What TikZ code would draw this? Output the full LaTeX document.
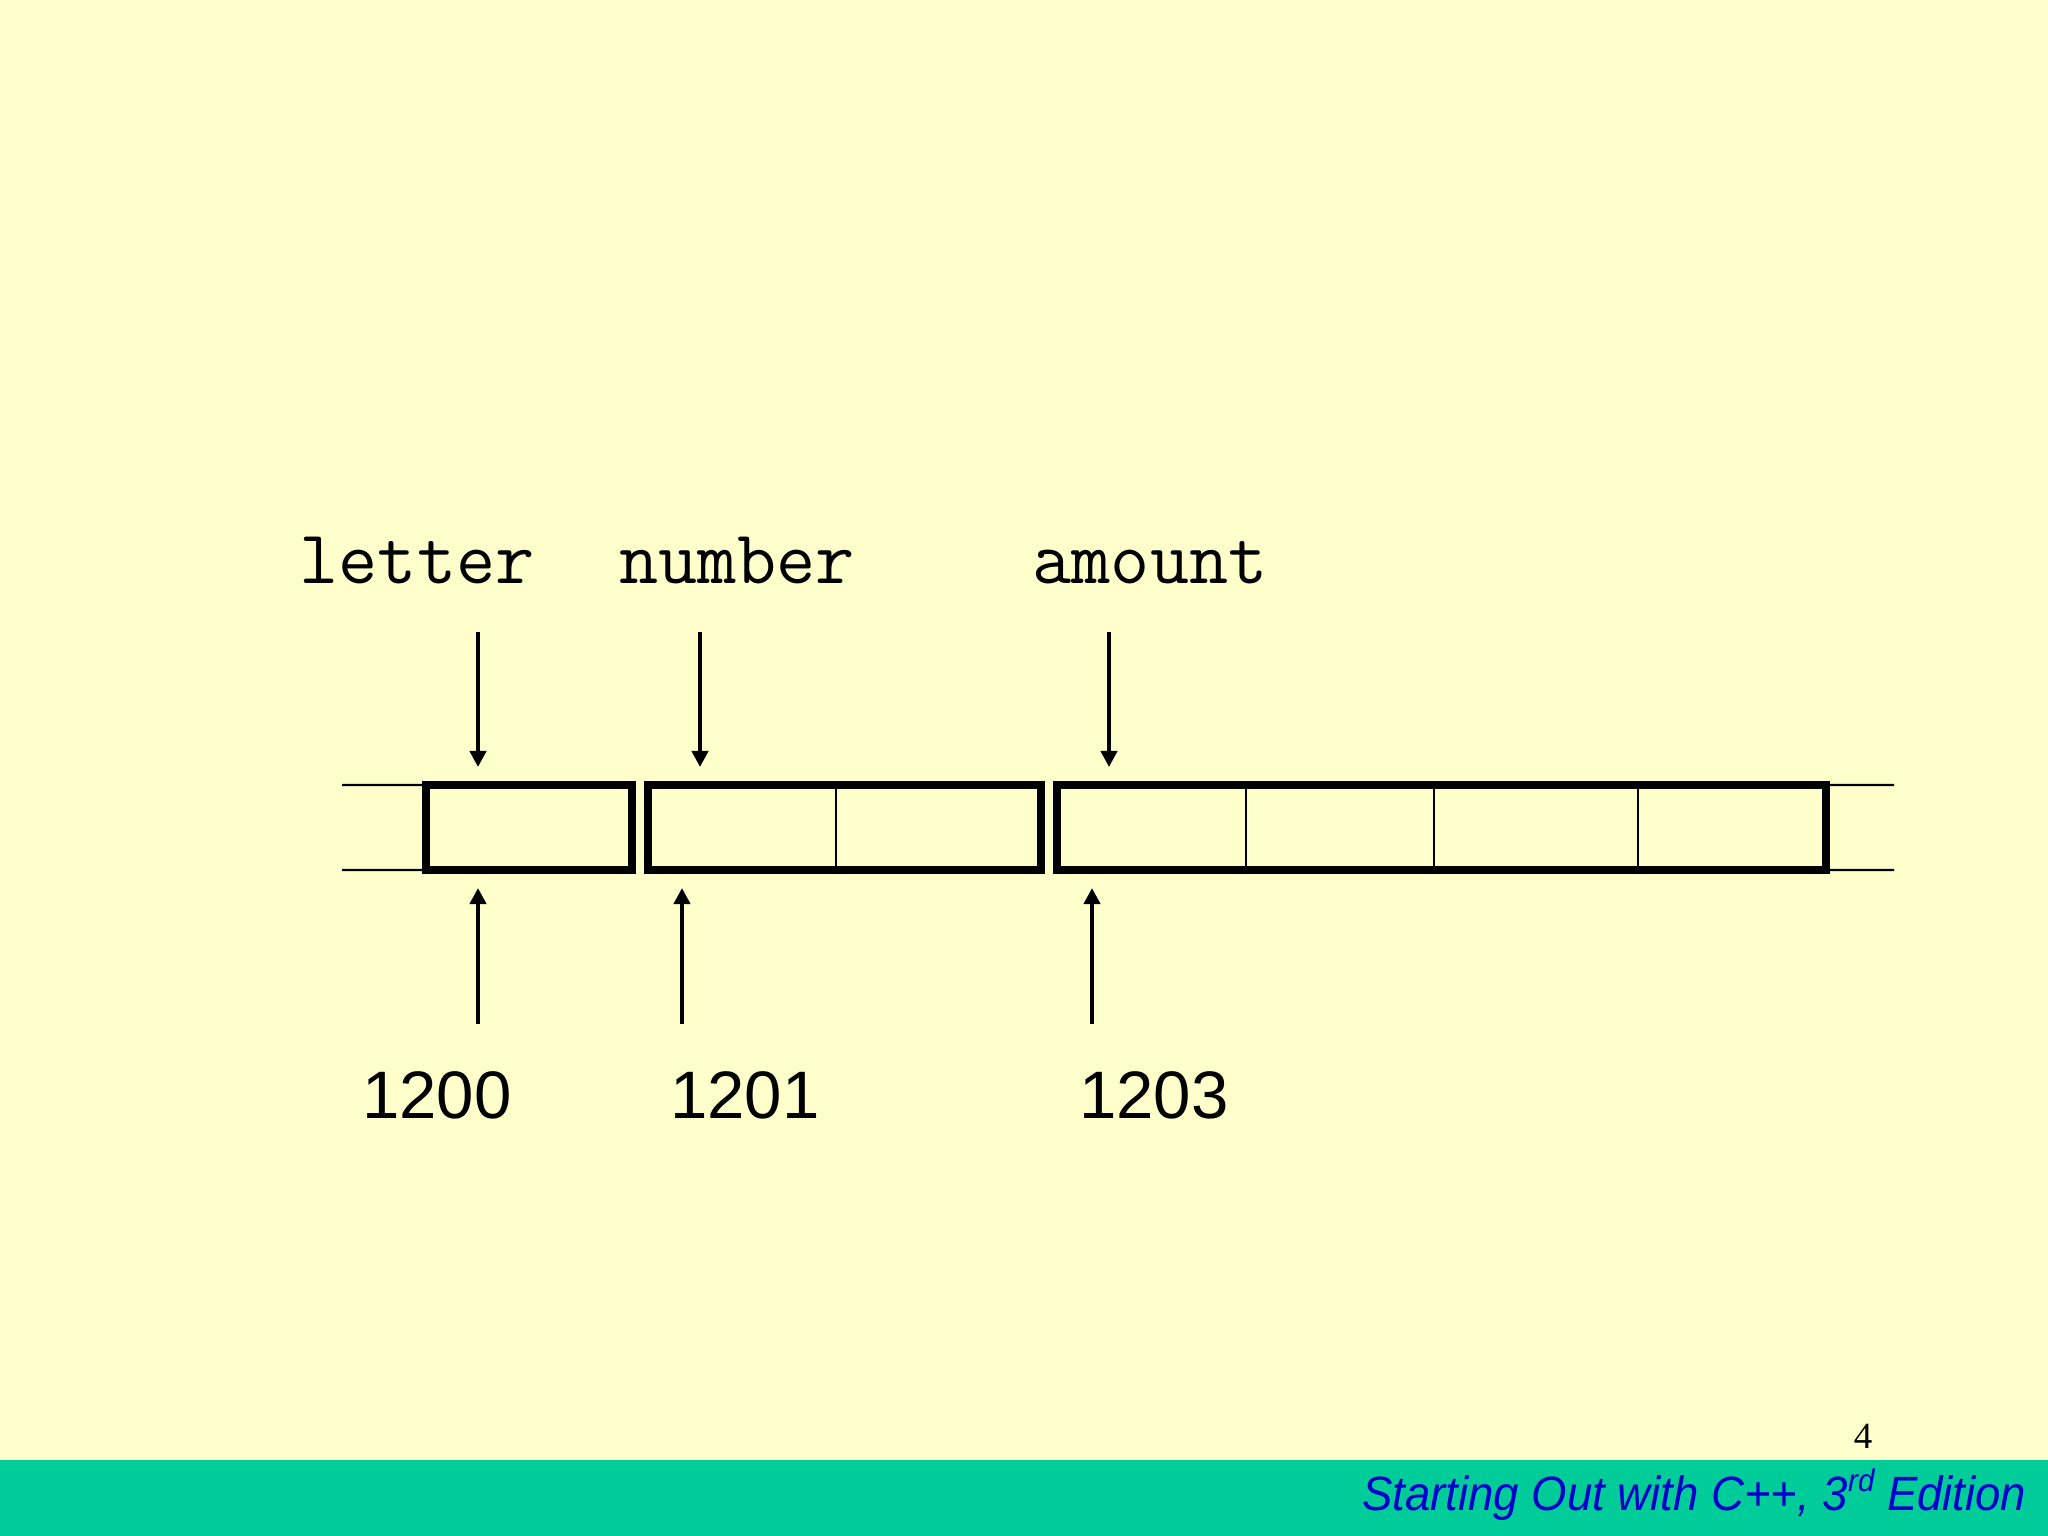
\documentclass[tikz,border=0pt]{standalone}
\usepackage{fontspec}
\setmainfont{Liberation Serif}
\newfontfamily\arialf{Liberation Sans}
\usetikzlibrary{arrows.meta}
\definecolor{slidebg}{HTML}{FFFFCC}
\definecolor{footbar}{HTML}{00CC99}
\definecolor{foottext}{HTML}{0000CC}
\tikzset{
  varlabel/.style={font=\ttfamily\fontsize{21.6}{24}\selectfont, anchor=base, inner sep=0pt},
  addrlabel/.style={font=\arialf\fontsize{19.1}{22}\selectfont, anchor=base, inner sep=0pt},
  cellbox/.style={draw=black, line width=2.3pt, inner sep=0pt, outer sep=0pt, minimum height=0.85cm},
  divider/.style={line width=0.6pt},
  extline/.style={line width=0.6pt},
  ptr/.style={line width=1.15pt, -{Triangle[width=4.6pt,length=4.6pt]}},
}
\begin{document}
\begin{tikzpicture}[x=0.01cm, y=-0.01cm]
  \useasboundingbox (0,0) rectangle (2048,1536);
  \fill[slidebg] (0,0) rectangle (2048,1536);
  \fill[footbar] (0,1460) rectangle (2048,1536);

  % variable names
  \node[varlabel] (letter) at (417,583) {letter};
  \node[varlabel] (number) at (737,583) {number};
  \node[varlabel] (amount) at (1150,583) {amount};

  % dividers
  \draw[divider] (836,785) -- (836,870);
  \draw[divider] (1246,785) -- (1246,870);
  \draw[divider] (1434,785) -- (1434,870);
  \draw[divider] (1638,785) -- (1638,870);

  % memory cells
  \node[cellbox, minimum width=2.06cm] (b1) at (529,827.5) {};
  \node[cellbox, minimum width=3.93cm] (b2) at (844.5,827.5) {};
  \node[cellbox, minimum width=7.69cm] (b3) at (1441.5,827.5) {};

  % extension lines
  \coordinate (lt) at (342,785);
  \coordinate (lb) at (342,870);
  \coordinate (rt) at (1894,785);
  \coordinate (rb) at (1894,870);
  \draw[extline] (lt) -- (b1.north west);
  \draw[extline] (lb) -- (b1.south west);
  \draw[extline] (b3.north east) -- (rt);
  \draw[extline] (b3.south east) -- (rb);

  % pointer arrows from names
  \coordinate (dA0) at (478,632);  \coordinate (dA1) at (478,767);
  \coordinate (dB0) at (700,632);  \coordinate (dB1) at (700,767);
  \coordinate (dC0) at (1109,632); \coordinate (dC1) at (1109,767);
  \draw[ptr] (dA0) -- (dA1);
  \draw[ptr] (dB0) -- (dB1);
  \draw[ptr] (dC0) -- (dC1);

  % pointer arrows from addresses
  \coordinate (uA0) at (478,1024);  \coordinate (uA1) at (478,888);
  \coordinate (uB0) at (682,1024);  \coordinate (uB1) at (682,888);
  \coordinate (uC0) at (1092,1024); \coordinate (uC1) at (1092,888);
  \draw[ptr] (uA0) -- (uA1);
  \draw[ptr] (uB0) -- (uB1);
  \draw[ptr] (uC0) -- (uC1);

  % addresses
  \node[addrlabel] (a1200) at (437,1118) {1200};
  \node[addrlabel] (a1201) at (745,1118) {1201};
  \node[addrlabel] (a1203) at (1154,1118) {1203};

  % page number
  \node[font=\fontsize{10.5}{12}\selectfont, anchor=base, inner sep=0pt] (pagenum) at (1863,1448) {4};

  % footer
  \node[font=\arialf\itshape\fontsize{13.7}{15}\selectfont, text=foottext, anchor=base east, inner sep=0pt] (footer) at (2027,1510)
    {\scalebox{0.945}[1]{Starting Out with C++, 3\raisebox{0.38em}{\fontsize{8.9}{9}\selectfont rd} Edition}};
\end{tikzpicture}
\end{document}
